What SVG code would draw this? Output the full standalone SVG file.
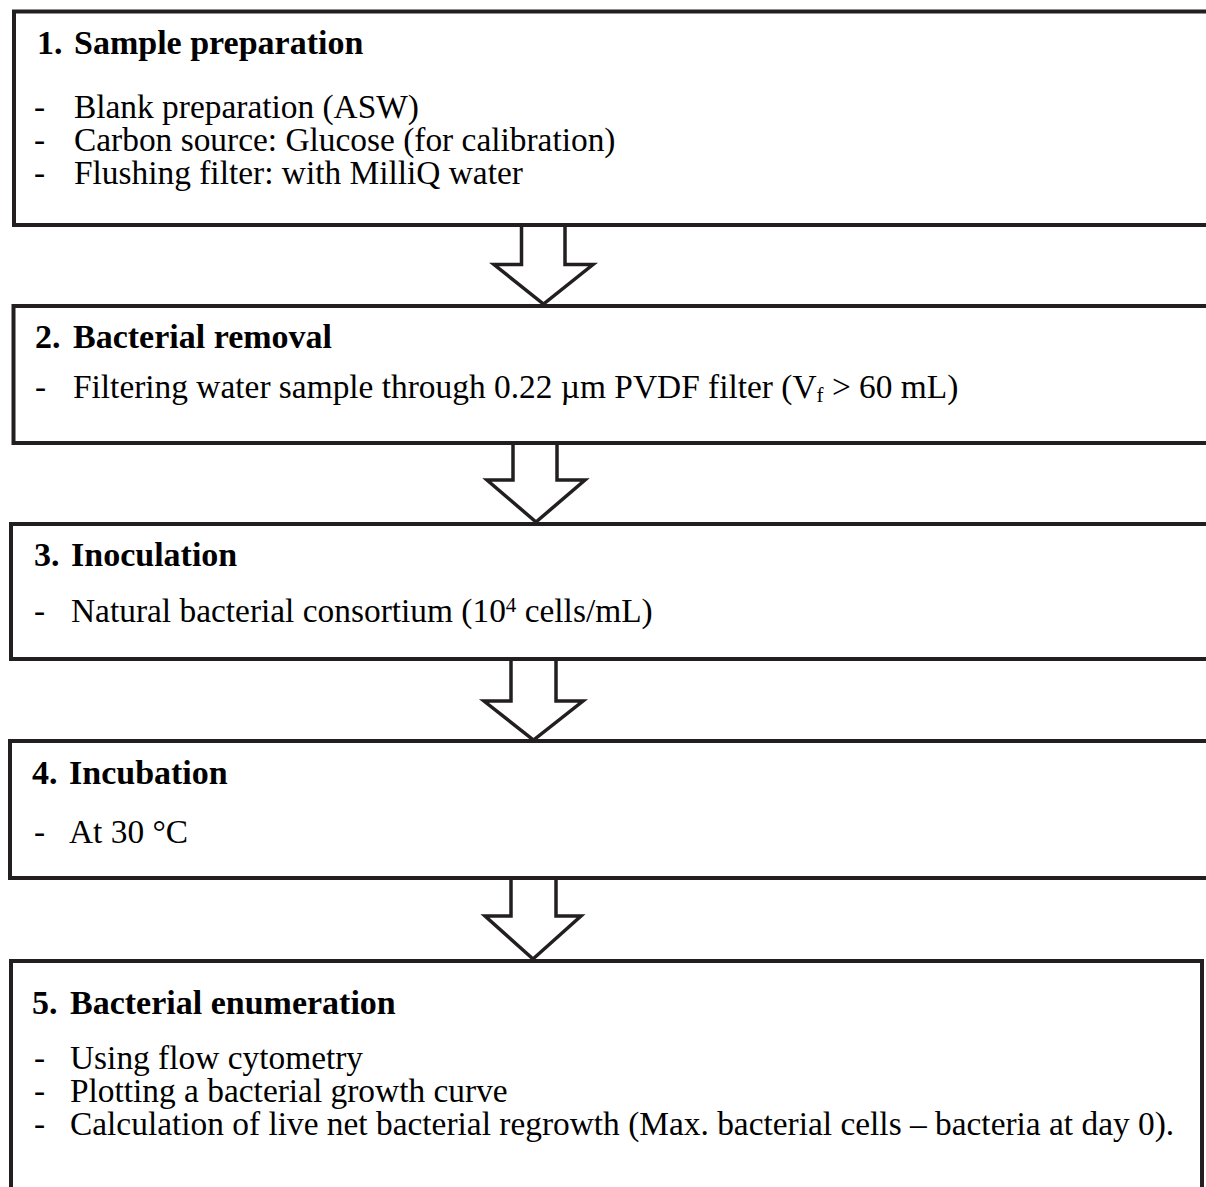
<svg xmlns="http://www.w3.org/2000/svg" width="1206" height="1187" viewBox="0 0 1206 1187">
<style>
.box{fill:#ffffff;stroke:#231f20;stroke-width:4}
.arrow{fill:#ffffff;stroke:#231f20;stroke-width:3.5;stroke-linejoin:miter}
text{font-family:"Liberation Serif","Times New Roman",serif;fill:#000000}
.t{font-size:34px;font-weight:bold}
.b{font-size:33.4px}
.sm{font-size:21px}
</style>
<rect width="1206" height="1187" fill="#ffffff"/>
<g id="connectors">
<polyline class="arrow" points="521.5,225 521.5,264.5 494,264.5 543.5,304 593,264.5 565,264.5 565,225"/>
<polyline class="arrow" points="513,443 513,480 487,480 536,522 585,480 557,480 557,443"/>
<polyline class="arrow" points="511,659 511,701 484,701 533.5,740 583,701 556,701 556,659"/>
<polyline class="arrow" points="511,878 511,916 485,916 533,959 581,916 556,916 556,878"/>
</g>
<g id="node1">
<rect class="box" x="14" y="11.5" width="1200" height="213.5"/>
<text class="t" y="54"><tspan x="37">1.</tspan><tspan x="74">Sample preparation</tspan></text>
<text class="b" y="118"><tspan x="34">-</tspan><tspan x="74">Blank preparation (ASW)</tspan></text>
<text class="b" y="151"><tspan x="34">-</tspan><tspan x="74">Carbon source: Glucose (for calibration)</tspan></text>
<text class="b" y="184"><tspan x="34">-</tspan><tspan x="74">Flushing filter: with MilliQ water</tspan></text>
</g>
<g id="node2">
<rect class="box" x="13.5" y="306" width="1200" height="137"/>
<text class="t" y="348"><tspan x="35">2.</tspan><tspan x="73">Bacterial removal</tspan></text>
<text class="b" y="398"><tspan x="35">-</tspan><tspan x="73">Filtering water sample through 0.22 µm PVDF filter (V</tspan><tspan class="sm" dy="4">f</tspan><tspan dy="-4"> &gt; 60 mL)</tspan></text>
</g>
<g id="node3">
<rect class="box" x="11" y="524" width="1200" height="135"/>
<text class="t" y="566"><tspan x="34">3.</tspan><tspan x="71">Inoculation</tspan></text>
<text class="b" y="622"><tspan x="34">-</tspan><tspan x="71">Natural bacterial consortium (10</tspan><tspan class="sm" dy="-10">4</tspan><tspan dy="10"> cells/mL)</tspan></text>
</g>
<g id="node4">
<rect class="box" x="10" y="741" width="1200" height="137"/>
<text class="t" y="784"><tspan x="32">4.</tspan><tspan x="69">Incubation</tspan></text>
<text class="b" y="843"><tspan x="34">-</tspan><tspan x="69">At 30 °C</tspan></text>
</g>
<g id="node5">
<path class="box" d="M11,1200 L11,961 L1202,961 L1202,1200"/>
<text class="t" y="1014"><tspan x="32">5.</tspan><tspan x="70">Bacterial enumeration</tspan></text>
<text class="b" y="1069"><tspan x="34">-</tspan><tspan x="70">Using flow cytometry</tspan></text>
<text class="b" y="1102"><tspan x="34">-</tspan><tspan x="70">Plotting a bacterial growth curve</tspan></text>
<text class="b" y="1135"><tspan x="34">-</tspan><tspan x="70">Calculation of live net bacterial regrowth (Max. bacterial cells – bacteria at day 0).</tspan></text>
</g>
</svg>
